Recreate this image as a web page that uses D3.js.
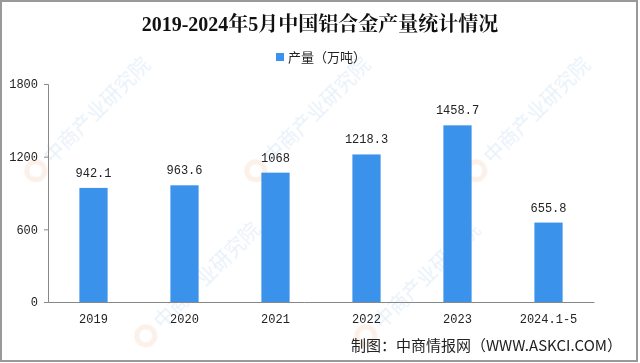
<!DOCTYPE html>
<html>
<head>
<meta charset="utf-8">
<script src="https://cdn.jsdelivr.net/npm/d3@7"></script>
<style>
  body { margin: 0; background: #fff; }
  svg { display: block; }
</style>
</head>
<body>
<script>
// data
var years = ["2019", "2020", "2021", "2022", "2023", "2024.1-5"];
var output = [942.1, 963.6, 1068, 1218.3, 1458.7, 655.8];
var labels = ["942.1", "963.6", "1068", "1218.3", "1458.7", "655.8"];
var yTicks = [0, 600, 1200, 1800];

var width = 640, height = 363;
var plotLeft = 48, plotRight = 594, plotTop = 84, plotBottom = 302;
var blue = "#3a92ea";
var mono = "'Liberation Mono', 'DejaVu Sans Mono', monospace";
var cjk = "'Noto Sans CJK SC', 'Noto Sans', sans-serif";

var svg = d3.select("body").append("svg")
    .attr("width", width)
    .attr("height", height);

svg.append("rect")
    .attr("width", width)
    .attr("height", height)
    .attr("fill", "#fff");

// faint watermarks
var marks = [[40, 175], [260, 175], [480, 175], [150, 340], [370, 340]];
var wm = svg.append("g").attr("opacity", 0.13);
marks.forEach(function(p) {
    var g = wm.append("g").attr("transform", "translate(" + p[0] + "," + p[1] + ") rotate(-45)");
    g.append("circle").attr("cx", 0).attr("cy", -6).attr("r", 9)
        .attr("fill", "none").attr("stroke", "#e8925a").attr("stroke-width", 5);
    g.append("text")
        .attr("x", 16).attr("y", 2)
        .attr("font-family", cjk)
        .attr("font-size", 20)
        .attr("fill", "#4a8fd8")
        .text("中商产业研究院");
});

var x = d3.scaleBand()
    .domain(years)
    .range([plotLeft, plotRight])
    .paddingInner(0.69)
    .paddingOuter(0.345);

var y = d3.scaleLinear()
    .domain([0, 1800])
    .range([plotBottom, plotTop]);

// title
svg.append("text")
    .attr("x", 320)
    .attr("y", 31)
    .attr("text-anchor", "middle")
    .attr("font-family", "'Liberation Serif', 'Noto Serif CJK SC', serif")
    .attr("font-weight", "bold")
    .attr("font-size", 20)
    .attr("fill", "#111")
    .text("2019-2024年5月中国铝合金产量统计情况");

// legend
svg.append("rect")
    .attr("x", 276).attr("y", 53)
    .attr("width", 8).attr("height", 8)
    .attr("fill", blue);
svg.append("text")
    .attr("x", 288).attr("y", 62)
    .attr("font-family", cjk)
    .attr("font-size", 13)
    .attr("fill", "#222")
    .text("产量（万吨）");

// y axis
var yAxis = svg.append("g")
    .attr("transform", "translate(" + plotLeft + ",0)")
    .call(d3.axisLeft(y).tickValues(yTicks).tickFormat(d3.format("d")).tickSize(4).tickPadding(6));
yAxis.select(".domain").attr("stroke", "#888");
yAxis.selectAll(".tick line").attr("stroke", "#888");
yAxis.selectAll(".tick text")
    .attr("font-family", mono)
    .attr("font-size", 12)
    .attr("fill", "#222");

// x axis
var xAxis = svg.append("g")
    .attr("transform", "translate(0," + plotBottom + ")")
    .call(d3.axisBottom(x).tickSize(0).tickPadding(12));
xAxis.select(".domain").attr("stroke", "#888");
xAxis.selectAll(".tick text")
    .attr("font-family", mono)
    .attr("font-size", 12)
    .attr("fill", "#222");

// bars
svg.selectAll(".bar")
    .data(output)
    .enter().append("rect")
    .attr("class", "bar")
    .attr("x", function(d, i) { return x(years[i]); })
    .attr("y", function(d) { return y(d); })
    .attr("width", x.bandwidth())
    .attr("height", function(d) { return plotBottom - y(d); })
    .attr("fill", blue);

svg.selectAll(".val")
    .data(output)
    .enter().append("text")
    .attr("class", "val")
    .attr("x", function(d, i) { return x(years[i]) + x.bandwidth() / 2; })
    .attr("y", function(d) { return y(d) - 11; })
    .attr("text-anchor", "middle")
    .attr("font-family", mono)
    .attr("font-size", 12)
    .attr("fill", "#222")
    .text(function(d, i) { return labels[i]; });

// source
svg.append("text")
    .attr("x", 622)
    .attr("y", 351)
    .attr("text-anchor", "end")
    .attr("font-family", cjk)
    .attr("font-size", 15)
    .attr("fill", "#222")
    .text("制图：中商情报网（WWW.ASKCI.COM）");

// frame
svg.append("rect")
    .attr("x", 1).attr("y", 1)
    .attr("width", width - 4).attr("height", height - 3)
    .attr("fill", "none")
    .attr("stroke", "#999")
    .attr("stroke-width", 2);
</script>
</body>
</html>
